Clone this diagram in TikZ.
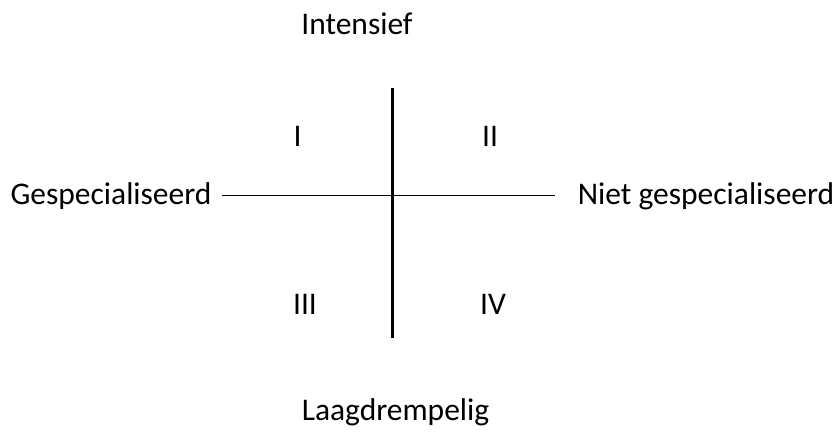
\documentclass[tikz,border=0pt]{standalone}
\usepackage{fontspec}
\setmainfont{Carlito}
\begin{document}
\begin{tikzpicture}[x=1pt,y=1pt,
  lbl/.style={inner sep=0pt,anchor=base,font=\fontsize{31.5}{38}\selectfont},
  axisv/.style={line width=3pt,black},
  axish/.style={line width=1.5pt,black}]
\useasboundingbox (0,0) rectangle (839,432);
% axis labels
\node[lbl] (top) at (357,397) {Intensief};
\node[lbl] (bottom) at (395.5,12) {Laagdrempelig};
\node[lbl] (left) at (111,228) {Gespecialiseerd};
\node[lbl] (right) at (706,228) {Niet gespecialiseerd};
% quadrant numbers
\node[lbl] (q1) at (297.7,285) {I};
\node[lbl] (q2) at (490,285) {II};
\node[lbl] (q3) at (305,118) {III};
\node[lbl] (q4) at (493,118) {IV};
% axis end points
\coordinate (vtop) at (392,344);
\coordinate (vbot) at (392,94);
\coordinate (hl) at (222,236.5);
\coordinate (hr) at (555,236.5);
\draw[axisv] (vtop) -- (vbot);
\draw[axish] (hl) -- (hr);
\end{tikzpicture}
\end{document}
